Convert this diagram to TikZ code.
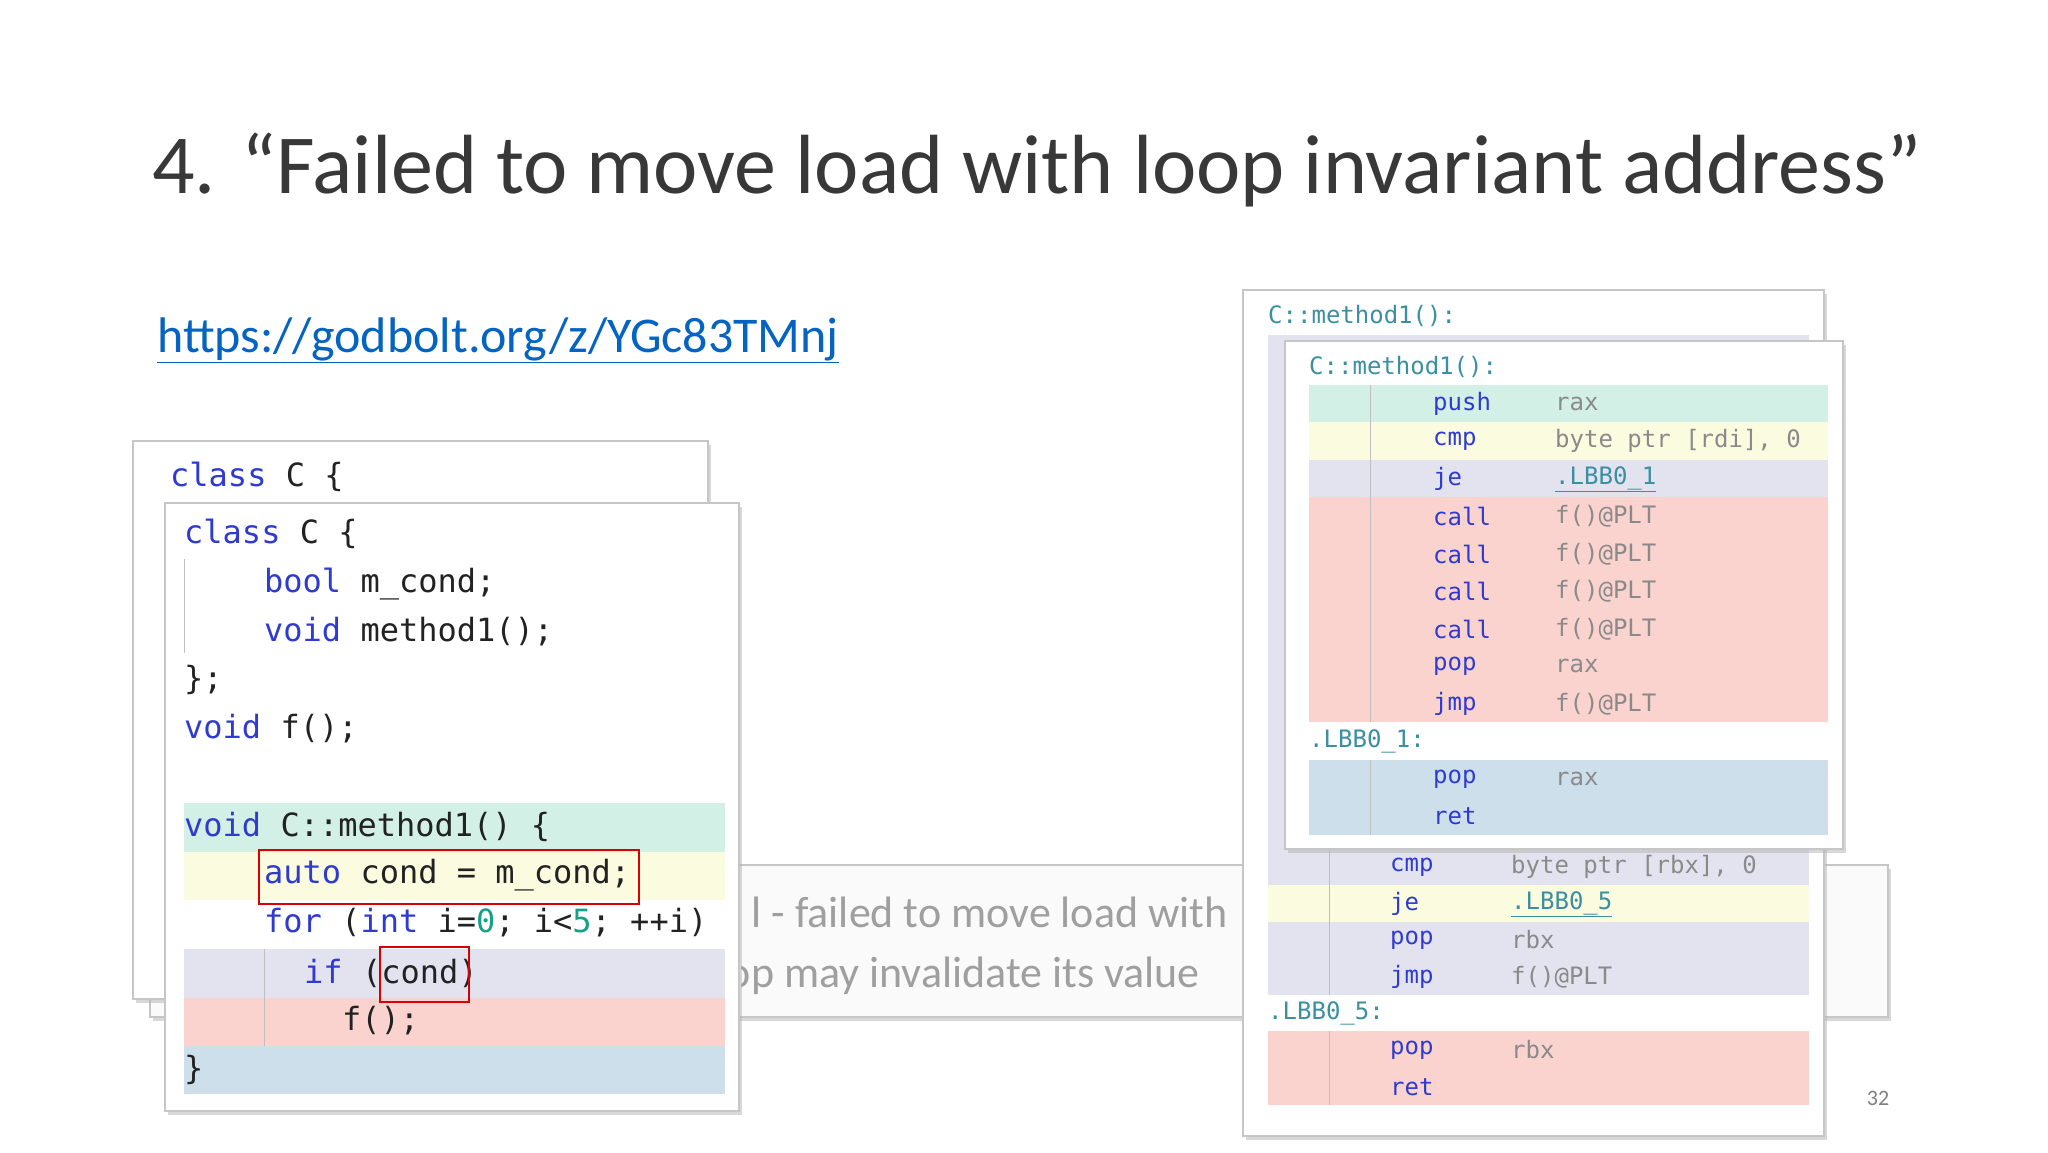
\documentclass[tikz,border=0pt]{standalone}
\usepackage{fontspec}
\setmainfont{Carlito}
\newfontfamily\codefont{DejaVu Sans Mono}
\usetikzlibrary{shadows}
\definecolor{kw}{HTML}{2F3BD0}
\definecolor{txt}{HTML}{222222}
\definecolor{num}{HTML}{16A085}
\definecolor{opnd}{HTML}{8A8A8A}
\definecolor{lbl}{HTML}{3A8FA0}
\definecolor{sgreen}{HTML}{D3F0E6}
\definecolor{syellow}{HTML}{FBFBE0}
\definecolor{slav}{HTML}{E3E3F0}
\definecolor{sred}{HTML}{FAD3CF}
\definecolor{sblue}{HTML}{CEDFEC}
\definecolor{url}{HTML}{0563C1}
\tikzset{
  x=1pt,y=-1pt,
  panel/.style={draw=gray!45,line width=1.2pt,fill=white,drop shadow={shadow xshift=3pt,shadow yshift=-4pt,fill=gray!60}},
  code/.style={anchor=west,inner sep=0pt,text=txt,font=\codefont\fontsize{32}{36}\selectfont},
  asm/.style={anchor=west,inner sep=0pt,font=\codefont\fontsize{24}{28}\selectfont},
  mn/.style={asm,text=kw},
  op/.style={asm,text=opnd},
  hd/.style={asm,text=lbl},
  redbox/.style={draw=red!85!black,line width=1.8pt},
  guide/.style={draw=gray!50,line width=1pt}
}
\begin{document}
\begin{tikzpicture}
\useasboundingbox (0,0) rectangle (2048,1152);
\fill[white] (0,0) rectangle (2048,1152);
% title
\node[anchor=center,inner sep=0pt,text=black!78,font=\fontsize{84}{90}\selectfont] (title) at (1037,170) {4. “Failed to move load with loop invariant address”};
\node[anchor=west,inner sep=0pt,text=url,font=\fontsize{50}{56}\selectfont] (link) at (157,340) {\underline{https://godbolt.org/z/YGc83TMnj}};
% banner
\draw[panel,fill=gray!4] (150,865) rectangle (1888,1017);
\begin{scope}
\clip (741,860) rectangle (1240,1020);
\node[anchor=east,inner sep=0pt,text=gray!75,font=\fontsize{44}{48}\selectfont] (b1) at (1228,912) {l - failed to move load with};
\node[anchor=east,inner sep=0pt,text=gray!75,font=\fontsize{44}{48}\selectfont] (b2) at (1200,976) {op may invalidate its value};
\end{scope}
% left back
\draw[panel] (133,441) rectangle (708,999);
\node[code] (lb1) at (170,477) {\textcolor{kw}{class} C \{};
% left front
\draw[panel] (165,503) rectangle (739,1111);
\fill[sgreen] (184,803) rectangle (725,852);
\fill[syellow] (184,852) rectangle (725,900);
\fill[slav] (184,949) rectangle (725,998);
\fill[sred] (184,998) rectangle (725,1046);
\fill[sblue] (184,1046) rectangle (725,1094);
\draw[guide] (184,559) -- (184,653);
\draw[guide] (264,949) -- (264,1046);
\node[code] (c1) at (184,534) {\textcolor{kw}{class} C \{};
\node[code] (c2) at (264,584) {\textcolor{kw}{bool} m\_cond;};
\node[code] (c3) at (264,632) {\textcolor{kw}{void} method1();};
\node[code] (c4) at (184,680) {\};};
\node[code] (c5) at (184,729) {\textcolor{kw}{void} f();};
\node[code] (c6) at (184,827) {\textcolor{kw}{void} C::method1() \{};
\node[code] (c7) at (264,875) {\textcolor{kw}{auto} cond = m\_cond;};
\node[code] (c8) at (264,923) {\textcolor{kw}{for} (\textcolor{kw}{int} i=\textcolor{num}{0}; i<\textcolor{num}{5}; ++i)};
\node[code] (c9) at (304,973) {\textcolor{kw}{if} (cond)};
\node[code] (c10) at (342,1021) {f();};
\node[code] (c11) at (184,1070) {\}};
\draw[redbox] (259,850) rectangle (639,904);
\draw[redbox] (380,947) rectangle (469,1002);
% right back
\draw[panel] (1243,290) rectangle (1824,1136);
\fill[slav] (1268,335) rectangle (1809,849);
\fill[slav] (1268,849) rectangle (1809,885);
\fill[syellow] (1268,885) rectangle (1809,922);
\fill[slav] (1268,922) rectangle (1809,995);
\fill[sred] (1268,1031) rectangle (1809,1105);
\draw[guide] (1329,849) -- (1329,995);
\draw[guide] (1329,1031) -- (1329,1105);
\node[hd] (rb0) at (1268,316) {C::method1():};
\node[mn] (rb1) at (1390,867) {cmp};  \node[op] (rb1o) at (1511,867) {byte ptr [rbx], 0};
\node[mn] (rb2) at (1390,904) {je};   \node[hd] (rb2o) at (1511,904) {\underline{.LBB0\_5}};
\node[mn] (rb3) at (1390,940) {pop};  \node[op] (rb3o) at (1511,940) {rbx};
\node[mn] (rb4) at (1390,977) {jmp};  \node[op] (rb4o) at (1511,977) {f()@PLT};
\node[hd] (rb5) at (1268,1013) {.LBB0\_5:};
\node[mn] (rb6) at (1390,1050) {pop}; \node[op] (rb6o) at (1511,1050) {rbx};
\node[mn] (rb7) at (1390,1087) {ret};
% right front
\draw[panel] (1285,341) rectangle (1843,849);
\fill[sgreen] (1309,385) rectangle (1828,422);
\fill[syellow] (1309,422) rectangle (1828,460);
\fill[slav] (1309,460) rectangle (1828,497);
\fill[sred] (1309,497) rectangle (1828,722);
\fill[sblue] (1309,760) rectangle (1828,835);
\draw[guide] (1370,385) -- (1370,722);
\draw[guide] (1370,760) -- (1370,835);
\node[hd] (rf0) at (1309,367) {C::method1():};
\node[mn] (f1) at (1433,404) {push}; \node[op] (f1o) at (1555,404) {rax};
\node[mn] (f2) at (1433,441) {cmp};  \node[op] (f2o) at (1555,441) {byte ptr [rdi], 0};
\node[mn] (f3) at (1433,479) {je};   \node[hd] (f3o) at (1555,479) {\underline{.LBB0\_1}};
\node[mn] (f4) at (1433,516) {call}; \node[op] (f4o) at (1555,516) {f()@PLT};
\node[mn] (f5) at (1433,554) {call}; \node[op] (f5o) at (1555,554) {f()@PLT};
\node[mn] (f6) at (1433,591) {call}; \node[op] (f6o) at (1555,591) {f()@PLT};
\node[mn] (f7) at (1433,629) {call}; \node[op] (f7o) at (1555,629) {f()@PLT};
\node[mn] (f8) at (1433,666) {pop};  \node[op] (f8o) at (1555,666) {rax};
\node[mn] (f9) at (1433,704) {jmp};  \node[op] (f9o) at (1555,704) {f()@PLT};
\node[hd] (f10) at (1309,741) {.LBB0\_1:};
\node[mn] (f11) at (1433,779) {pop}; \node[op] (f11o) at (1555,779) {rax};
\node[mn] (f12) at (1433,816) {ret};
% page number
\node[inner sep=0pt,text=gray,font=\fontsize{22}{24}\selectfont] (pg) at (1878,1098) {32};
\end{tikzpicture}
\end{document}
